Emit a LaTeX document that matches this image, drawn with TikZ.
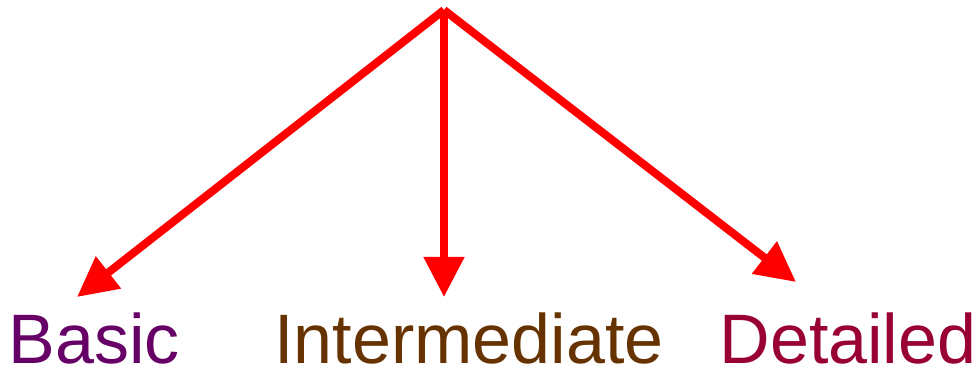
\documentclass[tikz,border=0pt]{standalone}
\usepackage{fontspec}
\setmainfont{Liberation Sans}
\usetikzlibrary{arrows.meta}
\definecolor{cbasic}{HTML}{660066}
\definecolor{cinter}{HTML}{663300}
\definecolor{cdetail}{HTML}{990033}
\begin{document}
\begin{tikzpicture}[x=1pt,y=-1pt,
  branch/.style={draw=red,line width=8pt,-{Triangle[length=40pt,width=39pt]}},
  label/.style={anchor=base,inner sep=0pt,font=\fontsize{70}{80}\selectfont}]
\useasboundingbox (0,0) rectangle (978,371);
\coordinate (top) at (444,10);
\coordinate (tb) at (77,297);
\coordinate (ti) at (444,297);
\coordinate (td) at (796,282);
\draw[branch] (top) -- (tb);
\draw[branch] (top) -- (ti);
\draw[branch] (top) -- (td);
\node[label,text=cbasic] (basic) at (94,364) {Basic};
\node[label,text=cinter] (inter) at (469,364) {Intermediate};
\node[label,text=cdetail] (detail) at (848,364) {Detailed};
\end{tikzpicture}
\end{document}
